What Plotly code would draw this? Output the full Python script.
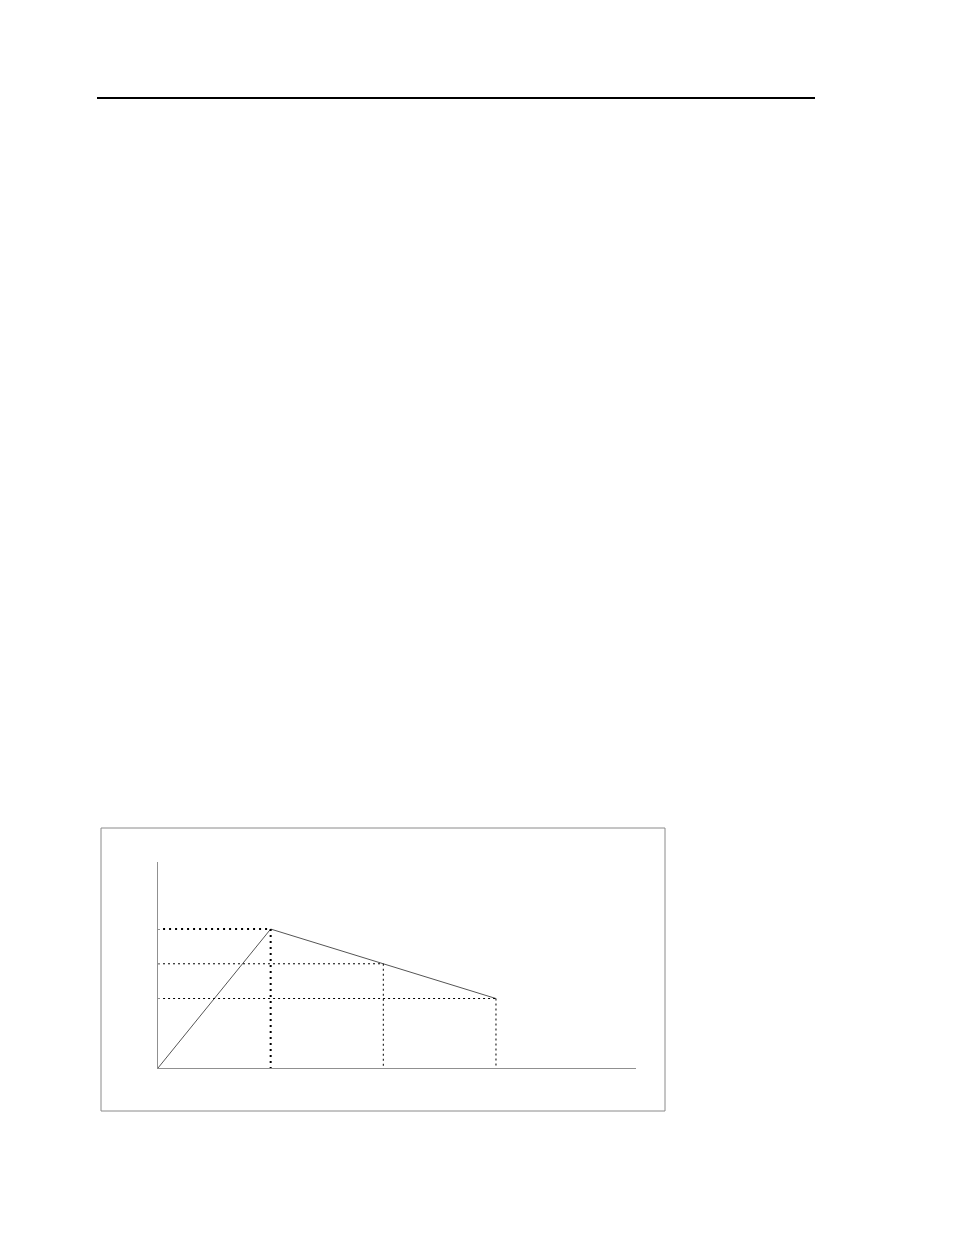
import plotly.graph_objects as go

# profile points (time step vs level)
x_pts = [0, 1, 2, 3]
y_pts = [0, 4, 3, 2]
y_ticks = [2, 3, 4]

W, H = 954, 1235
OFF = 8  # default page body margin in the browser


def px(v):
    return (v - OFF) / W


def py(v):
    return 1 - (v - OFF) / H


fig = go.Figure()

# main profile line
fig.add_trace(go.Scatter(x=x_pts, y=y_pts, mode="lines",
                         line=dict(color="#555555", width=1), hoverinfo="skip"))

# dotted guide lines from each break point to the axes
for i, (xv, yv) in enumerate(zip(x_pts[1:], y_pts[1:])):
    thick = (i == 0)
    w = 2 if thick else 1
    dash = "2px,4px" if thick else "2px,3px"
    x_start = 0 if i == 1 else 0.045
    fig.add_trace(go.Scatter(x=[x_start, xv], y=[yv, yv], mode="lines",
                             line=dict(color="black", width=w, dash=dash), hoverinfo="skip"))
    fig.add_trace(go.Scatter(x=[xv, xv], y=[yv, 0], mode="lines",
                             line=dict(color="black", width=w, dash=dash), hoverinfo="skip"))

# page header rule and frame around the figure
fig.add_shape(type="line", xref="paper", yref="paper",
              x0=px(97), x1=px(815), y0=py(98), y1=py(98),
              line=dict(color="black", width=2))
fig.add_shape(type="rect", xref="paper", yref="paper",
              x0=px(101), x1=px(665), y0=py(1111), y1=py(828),
              line=dict(color="#8a8a8a", width=1))

fig.update_layout(
    width=W, height=H,
    margin=dict(l=0, r=0, t=0, b=0),
    paper_bgcolor="white", plot_bgcolor="white",
    showlegend=False,
    xaxis=dict(domain=[px(158), px(636)], range=[0, 4.243],
               showgrid=False, zeroline=False, showticklabels=False,
               showline=True, linecolor="#909090", linewidth=1, ticks=""),
    yaxis=dict(domain=[py(1068), py(862)], range=[0, 5.93],
               showgrid=False, zeroline=False, showticklabels=False,
               showline=True, linecolor="#909090", linewidth=1,
               tickvals=y_ticks, ticks="inside", ticklen=2, tickcolor="#909090"),
)

fig.write_html("out.html", config=dict(displayModeBar=False))
